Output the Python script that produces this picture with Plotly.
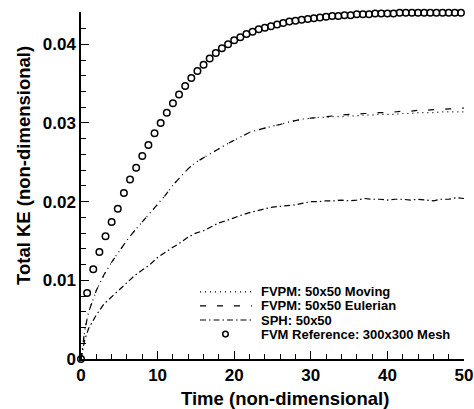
import plotly.graph_objects as go

# ---- data -------------------------------------------------------------
# FVM reference solution (300x300 mesh), sampled every 0.8 time units
t_ref = [round(0.8 * k, 1) for k in range(63)]
ke_ref = [0.0, 0.0084, 0.0114, 0.0136, 0.0156, 0.0174, 0.0191, 0.0211, 0.0228,
          0.0243, 0.0258, 0.0272, 0.0287, 0.0300, 0.0313, 0.0325, 0.0336,
          0.0347, 0.0357, 0.0366, 0.0374, 0.0382, 0.0389, 0.0395, 0.0400,
          0.0405, 0.0409, 0.0413, 0.0416, 0.0419, 0.0421, 0.0423, 0.0425,
          0.0427, 0.0429, 0.0430, 0.0431, 0.0432, 0.0433, 0.0434, 0.0435,
          0.0436, 0.0436, 0.0437, 0.0437, 0.0438, 0.0438, 0.0438, 0.0439,
          0.0439, 0.0439, 0.0439, 0.0440, 0.0440, 0.0440, 0.0440, 0.0440,
          0.0440, 0.0440, 0.0440, 0.0440, 0.0440, 0.0440]

# particle-method runs
t_sim = [0, 0.5, 1, 2, 3, 4, 5, 6, 7, 8, 9, 10, 11, 12, 13, 14, 15, 16, 17,
         18, 19, 20, 21, 22, 23, 24, 25, 26, 27, 28, 29, 30, 31, 32, 33, 34,
         35, 36, 37, 38, 39, 40, 41, 42, 43, 44, 45, 46, 47, 48, 49, 50]

ke_fvpm_moving = [0.0, 0.0037, 0.0060, 0.0087, 0.0107, 0.0123, 0.0137, 0.0151,
                  0.0163, 0.0174, 0.0185, 0.0197, 0.0208, 0.0221, 0.0232,
                  0.0242, 0.0250, 0.0256, 0.0261, 0.0267, 0.0273, 0.0278,
                  0.0283, 0.0288, 0.0291, 0.0294, 0.0296, 0.0298, 0.0301,
                  0.0303, 0.0305, 0.0306, 0.0307, 0.0307, 0.0308, 0.0308,
                  0.0309, 0.0309, 0.0310, 0.0310, 0.0311, 0.0311, 0.0311,
                  0.0312, 0.0312, 0.0313, 0.0313, 0.0313, 0.0314, 0.0314,
                  0.0314, 0.0314]

ke_fvpm_eulerian = [0.0, 0.0037, 0.0060, 0.0087, 0.0107, 0.0123, 0.0137, 0.0151,
                    0.0163, 0.0174, 0.0185, 0.0197, 0.0208, 0.0221, 0.0232,
                    0.0242, 0.0250, 0.0256, 0.0261, 0.0267, 0.0273, 0.0278,
                    0.0283, 0.0288, 0.0291, 0.0294, 0.0296, 0.0298, 0.0301,
                    0.0303, 0.0305, 0.0306, 0.0307, 0.0308, 0.0309, 0.0310,
                    0.0311, 0.0311, 0.0312, 0.0312, 0.0313, 0.0313, 0.0314,
                    0.0315, 0.0315, 0.0316, 0.0316, 0.0317, 0.0317, 0.0318,
                    0.0318, 0.0319]

ke_sph = [0.0, 0.0025, 0.0039, 0.0056, 0.0070, 0.0079, 0.0088, 0.0097, 0.0106,
          0.0113, 0.0120, 0.0129, 0.0136, 0.0142, 0.0148, 0.0155, 0.0160,
          0.0163, 0.0168, 0.0173, 0.0176, 0.0180, 0.0183, 0.0186, 0.0189,
          0.0191, 0.0193, 0.0194, 0.0195, 0.0196, 0.0198, 0.0200, 0.0200,
          0.0201, 0.0201, 0.0202, 0.0201, 0.0202, 0.0204, 0.0203, 0.0203,
          0.0202, 0.0203, 0.0203, 0.0202, 0.0203, 0.0202, 0.0201, 0.0203,
          0.0203, 0.0205, 0.0204]

legend_labels = ["FVPM: 50x50 Moving", "FVPM: 50x50 Eulerian",
                 "SPH: 50x50", "FVM Reference: 300x300 Mesh"]

# ---- figure -----------------------------------------------------------
W, H = 474, 409
M_L, M_R, M_T, M_B = 81, 10, 12, 50
PW, PH = W - M_L - M_R, H - M_T - M_B

def px(x):
    return (x - M_L) / PW

def py(y):
    return (H - M_B - y) / PH

FONT = "Liberation Sans, Arial, Helvetica, sans-serif"

DOT = "1px,4px"
DASH = "6px,11px"
DASHDOT = "6px,3px,1.5px,3px"
LW = 1.2

fig = go.Figure()
fig.add_trace(go.Scatter(x=t_sim, y=ke_fvpm_moving, mode="lines",
                         line=dict(color="black", width=LW, dash=DOT),
                         name=legend_labels[0]))
fig.add_trace(go.Scatter(x=t_sim, y=ke_fvpm_eulerian, mode="lines",
                         line=dict(color="black", width=LW, dash=DASH),
                         name=legend_labels[1]))
fig.add_trace(go.Scatter(x=t_sim, y=ke_sph, mode="lines",
                         line=dict(color="black", width=LW, dash=DASHDOT),
                         name=legend_labels[2]))
fig.add_trace(go.Scatter(x=t_ref, y=ke_ref, mode="markers",
                         marker=dict(symbol="circle-open", size=6.5, color="black",
                                     line=dict(width=1.5, color="black")),
                         cliponaxis=False, name=legend_labels[3]))

axis_common = dict(
    showgrid=False, zeroline=False, showline=True, linecolor="black",
    linewidth=1.5, ticks="inside", tickcolor="black", tickwidth=1,
    ticklen=8, mirror=False, automargin=False,
    tickfont=dict(family=FONT, size=17, color="black", weight="bold"),
)

fig.update_xaxes(range=[0, 50], dtick=10, tick0=0,
                 minor=dict(dtick=2, ticks="inside", ticklen=5,
                            tickcolor="black", tickwidth=1),
                 **axis_common)
fig.update_yaxes(range=[0, 0.0441], dtick=0.01, tick0=0,
                 minor=dict(dtick=0.002, ticks="inside", ticklen=5,
                            tickcolor="black", tickwidth=1),
                 **axis_common)

# legend block drawn inside the axes, lower right
row_y = [291.8, 305.9, 320.0, 334.1]
annotations = []
shapes = []
for lab, yy in zip(legend_labels, row_y):
    annotations.append(dict(
        text=lab, x=px(260), y=py(yy), xref="paper", yref="paper",
        xanchor="left", yanchor="middle", showarrow=False, borderpad=0,
        font=dict(family=FONT, size=13, color="black", weight="bold")))
for dash, yy in zip([DOT, DASH, DASHDOT], row_y[:3]):
    shapes.append(dict(type="line", xref="paper", yref="paper",
                       x0=px(200), x1=px(252), y0=py(yy), y1=py(yy),
                       line=dict(color="black", width=LW, dash=dash)))
shapes.append(dict(type="circle", xref="paper", yref="paper",
                   x0=px(222.7), x1=px(228.3), y0=py(row_y[3] + 2.8),
                   y1=py(row_y[3] - 2.8),
                   line=dict(color="black", width=1.5)))

# axis titles
annotations.append(dict(
    text="Time (non-dimensional)", x=px(285), y=py(398), xref="paper",
    yref="paper", xanchor="center", yanchor="middle", showarrow=False,
    font=dict(family=FONT, size=18.5, color="black", weight="bold")))
annotations.append(dict(
    text="Total KE (non-dimensional)", x=px(23), y=py(166), xref="paper",
    yref="paper", xanchor="center", yanchor="middle", showarrow=False,
    textangle=-90,
    font=dict(family=FONT, size=18.5, color="black", weight="bold")))

fig.update_layout(
    width=W, height=H,
    margin=dict(l=M_L, r=M_R, t=M_T, b=M_B, autoexpand=False),
    paper_bgcolor="white", plot_bgcolor="white",
    showlegend=False,
    annotations=annotations, shapes=shapes,
)

fig.write_html("out.html")
